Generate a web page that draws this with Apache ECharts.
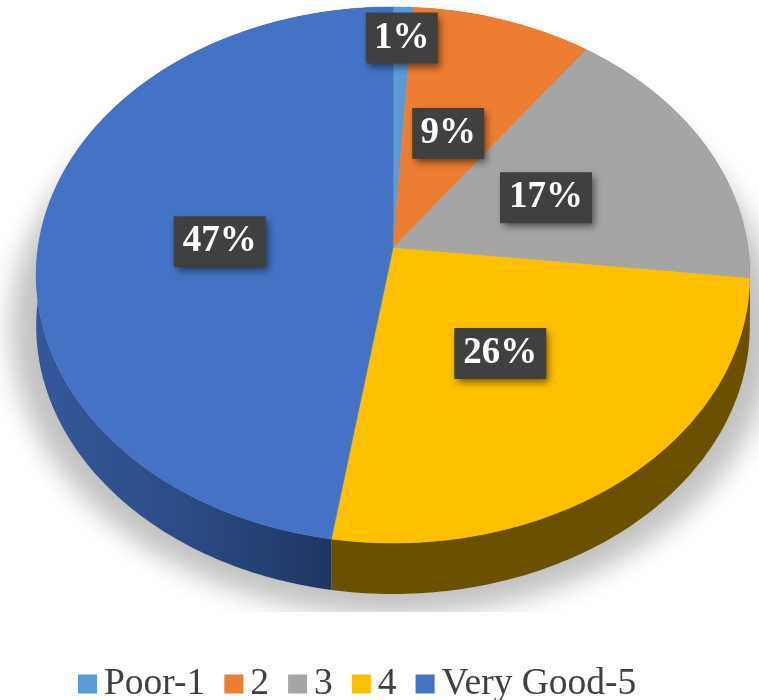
<!DOCTYPE html>
<html>
<head>
<meta charset="utf-8">
<style>html,body{margin:0;padding:0;background:#fff}#c{width:759px;height:700px}</style>
<script src="https://cdn.jsdelivr.net/npm/echarts@6/dist/echarts.min.js"></script>
</head>
<body>
<div id="c"></div>
<script>
const categories = ['Poor-1', '2', '3', '4', 'Very Good-5'];
const values = [1, 9, 16.8, 25.7, 47.5];
const labels = ['1%', '9%', '17%', '26%', '47%'];
const colors = ['#5B9BD5', '#ED7D31', '#A5A5A5', '#FFC000', '#4472C4'];

// tilted-disc projection
const CX = 393, CY = 248, RX = 355, RY = 265.3, K = -0.1007, DEPTH = 51;
const total = values.reduce((a, b) => a + b, 0);
function project(deg, r) {
  const t = deg * Math.PI / 180;
  const u = Math.sin(t) * r, v = -Math.cos(t) * r;
  const w = 1 + K * v;
  return [CX + RX * u / w, CY + RY * v / w];
}
function arc(a0, a1, r, dy, dx) {
  const n = Math.max(2, Math.ceil(Math.abs(a1 - a0)));
  const pts = [];
  for (let i = 0; i <= n; i++) {
    const p = project(a0 + (a1 - a0) * i / n, r);
    pts.push([p[0] + (dx || 0), p[1] + (dy || 0)]);
  }
  return pts;
}
const labelRadius = [0.86, 0.48, 0.48, 0.48, 0.49];
const labelTurn = [0, 0, 0, 0, -1.7];
const wallFills = [
  '#2d4f8a', '#7a3f18', '#555555', '#6b5000',
  { type: 'linear', x: 37, y: 0, x2: 332, y2: 0, global: true,
    colorStops: [{ offset: 0, color: '#34589b' }, { offset: 0.55, color: '#2a4a82' }, { offset: 1, color: '#1f3562' }] }
];

function renderSlice(params, api) {
  const i = params.seriesIndex;
  const before = values.slice(0, i).reduce((a, b) => a + b, 0);
  const a0 = before / total * 360;
  const a1 = (before + api.value(0)) / total * 360;
  const children = [];
  if (i === 0) {
    const away = 1600;
    children.push({
      type: 'polygon', z2: 0, shape: { points: arc(0, 360, 1.07, DEPTH - 2, -away) },
      style: { fill: '#c2c2c2', shadowBlur: 26, shadowColor: '#c2c2c2', shadowOffsetX: away }
    });
    children.push({
      type: 'rect', z2: 1, shape: { x: 0, y: 612, width: 759, height: 48 },
      style: { fill: '#ffffff' }
    });
  }
  const outer = arc(a0, a1, 1, 0);
  const wall = outer.concat(arc(a1, a0, 1, DEPTH));
  children.push({ type: 'polygon', z2: 2, shape: { points: wall }, style: { fill: wallFills[i] } });
  children.push({
    type: 'polygon', z2: 3, shape: { points: [[CX, CY]].concat(outer) },
    style: { fill: colors[i], stroke: colors[i], lineWidth: 0.5 }
  });
  const c = project((a0 + a1) / 2 + labelTurn[i], labelRadius[i]);
  const w = labels[i].length === 2 ? 72 : 92, h = 51;
  children.push({
    type: 'rect', z2: 5, shape: { x: c[0] - w / 2, y: c[1] - h / 2, width: w, height: h },
    style: { fill: '#404040', shadowBlur: 7, shadowOffsetX: 3, shadowOffsetY: 4, shadowColor: 'rgba(0,0,0,0.5)' }
  });
  children.push({
    type: 'text', z2: 6, style: {
      text: labels[i], x: c[0], y: c[1], align: 'center', verticalAlign: 'middle',
      fill: '#ffffff', font: 'bold 37px "Liberation Serif"'
    }
  });
  return { type: 'group', children };
}

const chart = echarts.init(document.getElementById('c'), null, { renderer: 'canvas' });
chart.setOption({
  animation: false,
  backgroundColor: '#ffffff',
  legend: {
    data: categories, left: 73, top: 660, icon: 'rect', itemWidth: 19, itemHeight: 19, itemGap: 19,
    selectedMode: false,
    textStyle: { fontFamily: 'Liberation Serif', fontSize: 37.5, color: '#404040', padding: [0, 0, 0, 2] }
  },
  series: categories.map((name, i) => ({
    type: 'custom', name, coordinateSystem: 'none', silent: true,
    itemStyle: { color: colors[i] },
    data: [values[i]], renderItem: renderSlice
  }))
});
</script>
</body>
</html>
